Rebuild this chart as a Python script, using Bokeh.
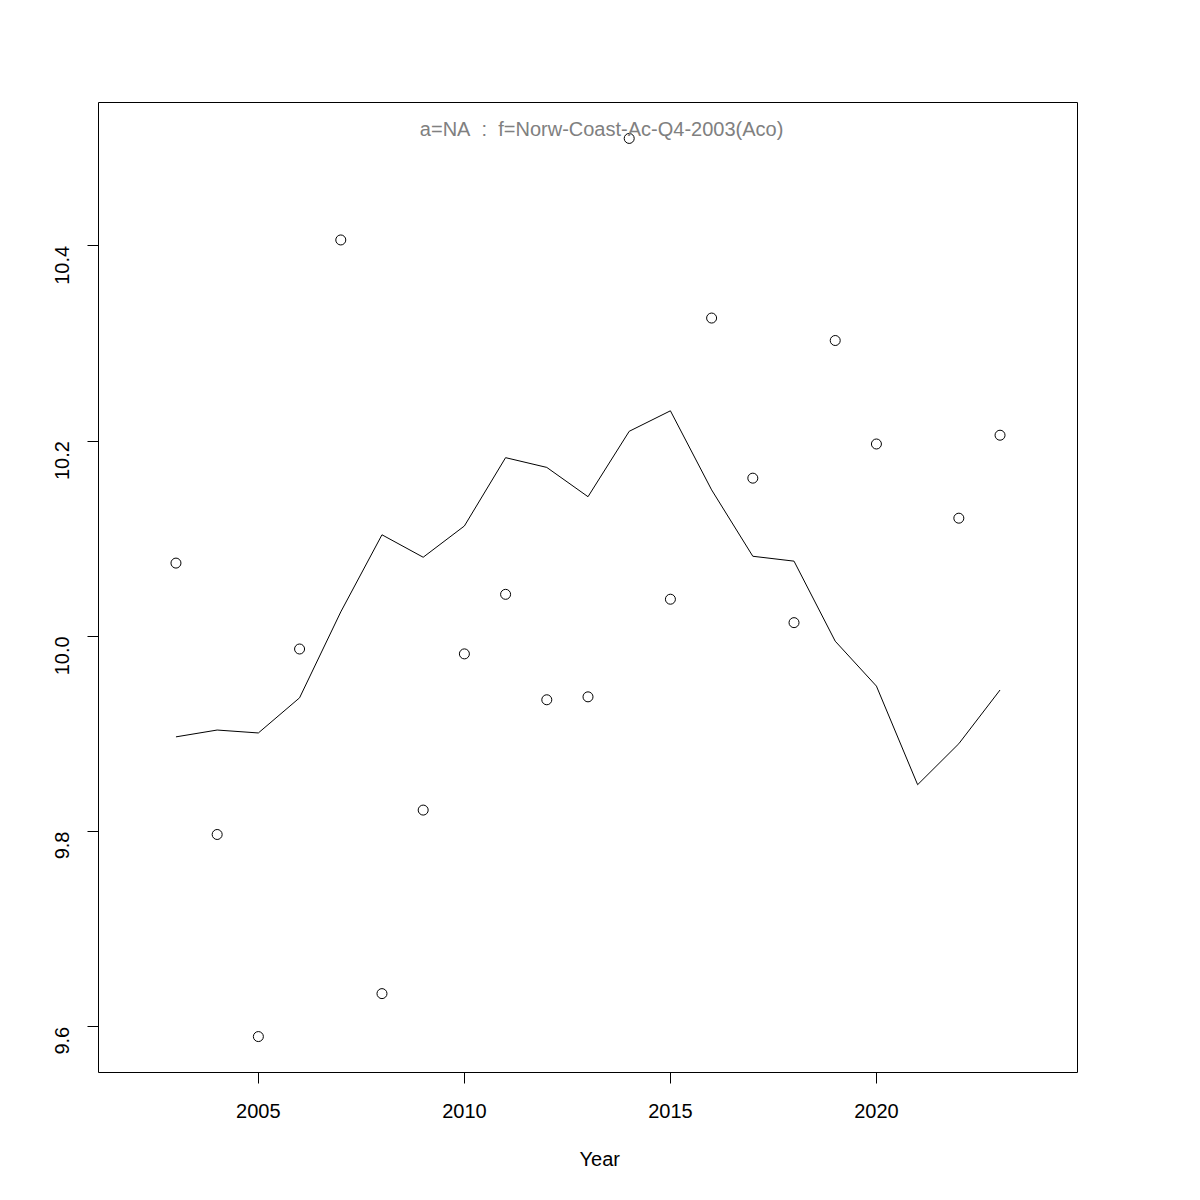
from bokeh.plotting import figure
from bokeh.models import Range1d, FixedTicker, Label, Title
from bokeh.embed import file_html
from bokeh.resources import INLINE
import math

# Data
point_years = [2003, 2004, 2005, 2006, 2007, 2008, 2009, 2010, 2011, 2012,
               2013, 2014, 2015, 2016, 2017, 2018, 2019, 2020, 2022, 2023]
point_values = [10.075, 9.797, 9.590, 9.987, 10.406, 9.634, 9.822, 9.982, 10.043, 9.935,
                9.938, 10.510, 10.038, 10.326, 10.162, 10.014, 10.303, 10.197, 10.121, 10.206]

line_years = [2003, 2004, 2005, 2006, 2007, 2008, 2009, 2010, 2011, 2012, 2013,
              2014, 2015, 2016, 2017, 2018, 2019, 2020, 2021, 2022, 2023]
line_values = [9.897, 9.904, 9.901, 9.937, 10.025, 10.104, 10.081, 10.113, 10.183, 10.173, 10.143,
               10.210, 10.231, 10.150, 10.082, 10.077, 9.995, 9.949, 9.848, 9.890, 9.945]

x_ticks = [2005, 2010, 2015, 2020]
y_ticks = [9.6, 9.8, 10.0, 10.2, 10.4]
y_tick_labels = ["9.6", "9.8", "10.0", "10.2", "10.4"]
title_text = "a=NA\u00a0\u00a0:\u00a0\u00a0f=Norw-Coast-Ac-Q4-2003(Aco)"
x_label = "Year"

FONT = "Liberation Sans"

# ranges like R (4% extension)
xlo, xhi = 2002, 2024
xext = (xhi - xlo) * 0.04
ylo, yhi = min(point_values + line_values), max(point_values + line_values)
yext = (yhi - ylo) * 0.04

p = figure(width=1200, height=1200, output_backend="svg", toolbar_location=None,
           x_range=Range1d(xlo - xext, xhi + xext),
           y_range=Range1d(ylo - yext, yhi + yext),
           min_border_left=98, min_border_right=123,
           min_border_top=102, min_border_bottom=128)

p.background_fill_color = "white"
p.border_fill_color = "white"
p.outline_line_color = "black"
p.outline_line_width = 1
p.xgrid.visible = False
p.ygrid.visible = False

p.line(line_years, line_values, line_color="black", line_width=1)
p.scatter(point_years, point_values, marker="circle", size=10,
          fill_color=None, line_color="black", line_width=1)

for ax in (p.xaxis[0], p.yaxis[0]):
    ax.axis_line_color = None
    ax.major_tick_line_color = "black"
    ax.major_tick_in = 0
    ax.major_tick_out = 11
    ax.minor_tick_line_color = None
    ax.major_label_text_font = FONT
    ax.major_label_text_font_size = "20px"
    ax.major_label_text_color = "black"

p.xaxis[0].ticker = FixedTicker(ticks=x_ticks)
p.xaxis[0].major_label_standoff = 20

p.yaxis[0].ticker = FixedTicker(ticks=y_ticks)
p.yaxis[0].major_label_overrides = {t: s for t, s in zip(y_ticks, y_tick_labels)}
p.yaxis[0].major_label_orientation = math.pi / 2
p.yaxis[0].major_label_standoff = 25

title = Label(x=2013.33, y=10.520, text=title_text, text_align="center",
              text_baseline="middle", text_font=FONT, text_font_size="20px",
              text_color="#808080")
p.add_layout(title)

xlab = Title(text=x_label, align="left", offset=481, standoff=50,
             text_font=FONT, text_font_size="20px", text_font_style="normal",
             text_color="black")
p.add_layout(xlab, "below")

open("out.html", "w").write(file_html(p, INLINE))
